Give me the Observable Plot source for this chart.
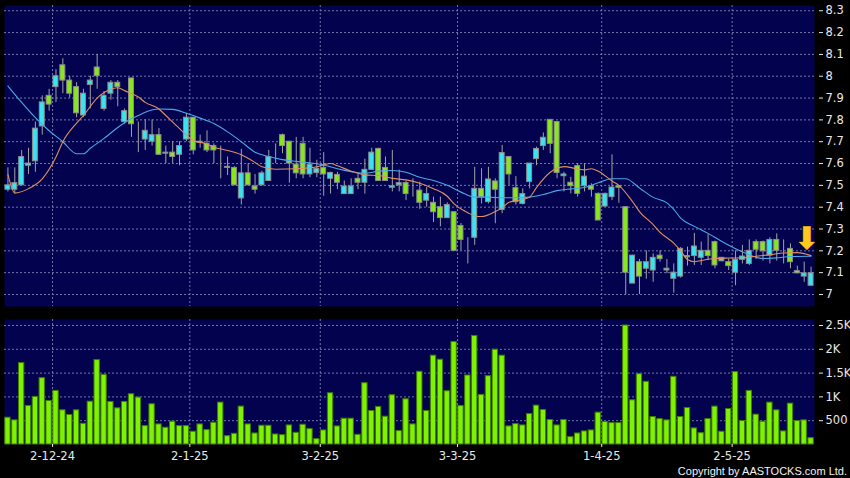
<!DOCTYPE html>
<html><head><meta charset="utf-8">
<script src="https://cdn.jsdelivr.net/npm/d3@7"></script>
<script src="https://cdn.jsdelivr.net/npm/@observablehq/plot@0.6"></script>
<style>
html,body{margin:0;padding:0;background:#000;}
#chart{position:relative;width:850px;height:478px;overflow:hidden;background:#000;}
#chart svg{display:block;}
#copy{position:absolute;right:3px;bottom:0px;color:#f2f2f2;font:11px "Liberation Sans",sans-serif;line-height:13px;}
</style></head><body>
<div id="chart"><div id="copy">Copyright by AASTOCKS.com Ltd.</div></div>
<script>
// ---- data (one entry per trading day) ----
const open  = [7.48,7.48,7.50,7.59,7.61,7.77,7.91,7.95,8.05,7.98,7.95,7.82,7.96,8.04,7.85,7.92,7.97,7.79,7.99,7.71,
               7.71,7.70,7.73,7.645,7.65,7.64,7.71,7.81,7.70,7.69,7.68,7.59,7.585,7.58,7.44,7.555,7.495,7.50,7.52,7.65,
               7.73,7.70,7.595,7.69,7.55,7.556,7.58,7.53,7.548,7.46,7.46,7.53,7.512,7.571,7.667,7.58,7.489,7.50,7.51,7.484,
               7.476,7.43,7.42,7.40,7.35,7.377,7.314,7.217,7.26,7.484,7.423,7.518,7.387,7.63,7.487,7.415,7.515,7.62,7.68,7.80,
               7.79,7.542,7.512,7.588,7.496,7.496,7.461,7.403,7.446,7.496,7.40,7.05,7.148,7.118,7.11,7.178,7.11,7.072,7.082,7.176,
               7.176,7.168,7.20,7.24,7.152,7.148,7.10,7.159,7.14,7.24,7.24,7.178,7.25,7.18,7.209,7.107,7.082,7.04];
const high  = [7.58,7.58,7.66,7.67,7.79,7.91,7.94,8.03,8.08,8.00,7.97,7.94,8.00,8.10,7.93,7.98,7.98,7.85,7.99,7.79,
               7.80,7.80,7.76,7.68,7.70,7.70,7.83,7.81,7.73,7.75,7.69,7.68,7.63,7.585,7.665,7.60,7.55,7.565,7.66,7.69,
               7.735,7.70,7.72,7.72,7.67,7.615,7.65,7.56,7.56,7.52,7.53,7.55,7.62,7.67,7.67,7.63,7.66,7.57,7.52,7.53,
               7.515,7.49,7.446,7.446,7.42,7.38,7.325,7.26,7.583,7.576,7.583,7.53,7.683,7.63,7.54,7.484,7.60,7.675,7.74,7.80,
               7.79,7.56,7.537,7.60,7.60,7.507,7.465,7.465,7.64,7.50,7.40,7.18,7.16,7.20,7.186,7.20,7.16,7.14,7.215,7.217,
               7.28,7.24,7.275,7.245,7.17,7.163,7.20,7.225,7.25,7.25,7.245,7.26,7.278,7.25,7.232,7.13,7.148,7.125];
const low   = [7.47,7.46,7.50,7.55,7.56,7.73,7.84,7.88,7.92,7.90,7.81,7.81,7.85,7.94,7.84,7.89,7.86,7.78,7.72,7.65,
               7.66,7.68,7.64,7.60,7.60,7.59,7.70,7.64,7.67,7.65,7.60,7.53,7.545,7.50,7.41,7.50,7.46,7.50,7.52,7.60,
               7.645,7.51,7.53,7.53,7.535,7.535,7.45,7.46,7.48,7.46,7.46,7.48,7.46,7.57,7.52,7.52,7.47,7.47,7.43,7.446,
               7.39,7.40,7.33,7.31,7.35,7.20,7.20,7.14,7.225,7.415,7.415,7.324,7.37,7.50,7.41,7.41,7.484,7.59,7.66,7.645,
               7.53,7.47,7.461,7.446,7.47,7.446,7.339,7.40,7.43,7.418,7.00,7.05,7.00,7.07,7.056,7.148,7.095,7.006,7.075,7.13,
               7.133,7.133,7.155,7.118,7.15,7.11,7.04,7.14,7.133,7.16,7.153,7.14,7.153,7.14,7.118,7.095,7.056,7.04];
const close = [7.50,7.51,7.63,7.60,7.76,7.88,7.87,8.00,7.98,7.92,7.83,7.92,7.98,8.00,7.91,7.97,7.95,7.84,7.78,7.71,
               7.75,7.73,7.64,7.65,7.63,7.68,7.81,7.66,7.695,7.66,7.66,7.59,7.58,7.50,7.555,7.50,7.48,7.555,7.63,7.65,
               7.68,7.60,7.555,7.55,7.595,7.576,7.55,7.557,7.512,7.495,7.495,7.512,7.571,7.65,7.52,7.52,7.496,7.51,7.46,7.484,
               7.42,7.46,7.377,7.35,7.41,7.20,7.25,7.217,7.484,7.446,7.527,7.48,7.648,7.55,7.423,7.46,7.60,7.667,7.718,7.69,
               7.557,7.55,7.496,7.461,7.54,7.48,7.339,7.461,7.49,7.489,7.10,7.178,7.082,7.148,7.168,7.162,7.118,7.10,7.209,7.17,
               7.22,7.20,7.176,7.133,7.168,7.13,7.159,7.174,7.20,7.205,7.198,7.25,7.20,7.18,7.148,7.097,7.097,7.097];
const volume = [563,507,1710,810,1000,1394,915,1126,718,620,718,436,900,1774,1464,894,760,894,1056,986,
                387,845,422,352,479,387,387,268,422,303,458,880,176,225,796,422,232,394,394,211,
                197,401,246,415,324,113,296,1077,380,542,542,204,1288,704,789,584,1035,282,950,422,
                1528,704,1866,1781,1119,2154,810,1450,2281,1042,1436,1992,1866,380,429,401,641,817,725,514,
                401,514,155,232,275,296,669,472,450,450,2500,929,1478,1317,577,535,507,1422,577,767,
                338,239,535,796,268,746,1521,493,1126,627,479,880,718,275,859,493,507,134];

// moving averages (trading-day index, value)
const ma10Idx = [0,1,3,5,7,8,10,11,13,15,16,17,19,20,22,23,25,27,29,30,32,34,36,37,39,42,45,47,48,50,52,54,56,58,60,62,64,65,67,68,69,71,72,73,75,76,77,79,80,81,83,84,85,86,88,89,91,92,94,95,97,98,99,100,101,103,105,107,109,111,113,115,117];
const ma10Val = [7.55,7.465,7.485,7.53,7.63,7.70,7.785,7.82,7.90,7.94,7.947,7.934,7.905,7.88,7.85,7.82,7.76,7.706,7.69,7.675,7.66,7.64,7.605,7.585,7.574,7.576,7.585,7.60,7.59,7.565,7.548,7.545,7.532,7.525,7.51,7.485,7.45,7.415,7.375,7.36,7.357,7.38,7.397,7.423,7.435,7.446,7.49,7.56,7.578,7.586,7.575,7.571,7.576,7.565,7.52,7.50,7.425,7.38,7.32,7.285,7.235,7.20,7.16,7.15,7.156,7.165,7.167,7.168,7.175,7.182,7.19,7.192,7.178];
const ma20Idx = [0,2,4,6,8,10,11,12,14,16,18,19,20,22,24,26,28,30,32,34,36,38,40,42,44,46,48,50,52,54,56,58,60,62,64,66,68,70,72,74,76,78,80,82,84,86,88,90,92,94,96,97,98,100,102,104,106,108,110,112,114,117];
const ma20Val = [7.955,7.88,7.81,7.75,7.70,7.645,7.645,7.67,7.715,7.765,7.806,7.82,7.835,7.85,7.848,7.83,7.808,7.783,7.745,7.70,7.652,7.632,7.618,7.61,7.603,7.593,7.576,7.563,7.555,7.565,7.568,7.56,7.537,7.522,7.50,7.469,7.446,7.446,7.443,7.443,7.446,7.458,7.476,7.484,7.49,7.512,7.53,7.53,7.488,7.445,7.42,7.39,7.35,7.312,7.28,7.243,7.21,7.182,7.165,7.168,7.174,7.175];

// first trading day of each month (index) and its label
const monthIdx = [7, 27, 46, 66, 87, 106];
const monthLabels = ["2-12-24","2-1-25","3-2-25","3-3-25","1-4-25","2-5-25"];
const priceTicks = [7.0,7.1,7.2,7.3,7.4,7.5,7.6,7.7,7.8,7.9,8.0,8.1,8.2,8.3];
const volTicks = [500,1000,1500,2000,2500];

// ---- build ----
const N = close.length;
const candles = d3.range(N).map(i => ({i, open: open[i], high: high[i], low: low[i], close: close[i], volume: volume[i]}));
const ma10 = ma10Idx.map((i, k) => ({i, v: ma10Val[k]}));
const ma20 = ma20Idx.map((i, k) => ({i, v: ma20Val[k]}));
const UP = "#38e4f0", DOWN = "#88e61e", NAVY = "#02024f", GRID = "#7676a6";
const bodyFill = d => d.close > d.open ? UP : d.close < d.open ? DOWN : "#9a9a9a";
const xDomain = [-0.5, N - 0.5];
const font = "DejaVu Sans, sans-serif";
const lab = new Map(monthIdx.map((m, k) => [m - 0.5, monthLabels[k]]));

const priceChart = Plot.plot({
  width: 850, height: 312,
  marginLeft: 4, marginRight: 36, marginTop: 5, marginBottom: 6,
  style: {background: "#000", color: "#e8e8e8", fontFamily: font, fontSize: "11.5px", overflow: "visible"},
  x: {domain: xDomain, axis: null},
  y: {domain: [6.945, 8.324], axis: null},
  marks: [
    Plot.frame({fill: NAVY, stroke: "none"}),
    Plot.ruleY(priceTicks, {stroke: GRID, strokeDasharray: "2,2"}),
    Plot.ruleX(monthIdx, {x: d => d - 0.5, stroke: GRID, strokeDasharray: "2,2"}),
    Plot.ruleX(candles, {x: "i", y1: "low", y2: "high", stroke: "#a2a2a2"}),
    Plot.rect(candles, {x1: d => d.i - 0.36, x2: d => d.i + 0.36, y1: "open", y2: "close", fill: bodyFill, stroke: "#8e8e8e", strokeWidth: 1}),
    Plot.line(ma20, {x: "i", y: "v", stroke: "#4aa8e8", strokeWidth: 1.1, curve: "monotone-x"}),
    Plot.line(ma10, {x: "i", y: "v", stroke: "#de9060", strokeWidth: 1.1, curve: "monotone-x"}),
    Plot.text([ma10[ma10.length - 1]], {x: "i", y: "v", text: () => "⬇", dx: -4, dy: -17, fontSize: 31, fill: "#ffc81e", stroke: "#c88400", strokeWidth: 0.8}),
    Plot.axisY({anchor: "right", label: null, ticks: priceTicks, tickFormat: d => String(+d.toFixed(1)), tickSize: 4, tickPadding: 3, dx: 4, fontSize: 11.5})
  ]
});

const volChart = Plot.plot({
  width: 850, height: 166,
  marginLeft: 4, marginRight: 36, marginTop: 7, marginBottom: 34,
  style: {background: "#000", color: "#e8e8e8", fontFamily: font, fontSize: "11.5px", overflow: "visible"},
  x: {domain: xDomain, axis: null},
  y: {domain: [0, 2626], axis: null},
  marks: [
    Plot.frame({fill: NAVY, stroke: "none"}),
    Plot.ruleY(volTicks, {stroke: GRID, strokeDasharray: "2,2"}),
    Plot.ruleX(monthIdx, {x: d => d - 0.5, stroke: GRID, strokeDasharray: "2,2"}),
    Plot.rectY(candles, {x1: d => d.i - 0.39, x2: d => d.i + 0.39, y: "volume", fill: "#7ef200", stroke: "#3f7c00", strokeWidth: 1}),
    Plot.axisY({anchor: "right", label: null, ticks: volTicks, tickFormat: d => d >= 1000 ? (d / 1000) + "K" : String(d), tickSize: 4, tickPadding: 3, dx: 4, fontSize: 11.5}),
    Plot.axisX({label: null, ticks: monthIdx.map(m => m - 0.5), tickFormat: d => lab.get(d), tickSize: 3, tickPadding: 4, fontSize: 11.5})
  ]
});

const chart = document.getElementById("chart");
chart.insertBefore(volChart, chart.firstChild);
chart.insertBefore(priceChart, volChart);
</script>
</body></html>
